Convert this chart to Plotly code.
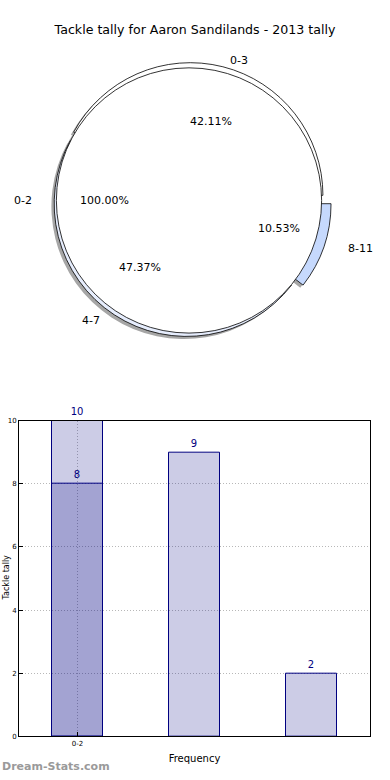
import math
import plotly.graph_objects as go

# ---------------- data ----------------
title_text = "Tackle tally for Aaron Sandilands - 2013 tally"
pie1_labels = ["0-2"]
pie1_values = [10]
pie2_labels = ["0-3", "4-7", "8-11"]
pie2_values = [8, 9, 2]
pie2_explode = [0.04, 0.03, 0.075]
pie1_colors = ["#ffffff"]
pie2_colors = ["#ffffff", "#e6edfd", "#c6d9fd"]
x_title = "Frequency"
y_title = "Tackle tally"
watermark = "Dream-Stats.com"

# ---------------- layout constants ----------------
W, H = 390, 780
CX, CY, R = 189.0, 198.5, 134.0   # pie centre / radius in px
TRX, TRY = 141.0, 128.0           # radii used for placing pie texts
FONT = "DejaVu Sans"
NAVY = "#000080"
BAR_FILL = "rgba(0,0,128,0.2)"
GRID = "#b8b8b8"


def pie_domain(cx, cy, r, maxpull=0.0):
    half = r * (1 + maxpull)
    return dict(x=[(cx - half) / W, (cx + half) / W],
                y=[1 - (cy + half) / H, 1 - (cy - half) / H])


def start_rotation(values):
    # plotly (counterclockwise) ends the first slice at `rotation`;
    # make the first slice start at 3 o'clock like matplotlib's startangle=0
    return 90.0 - 360.0 * values[0] / float(sum(values))


fig = go.Figure()
maxpull = max(pie2_explode)
SH_DX, SH_DY = -2.8, 2.6

common = dict(sort=False, direction="counterclockwise",
              textinfo="none", hoverinfo="skip", showlegend=False)
rot1 = start_rotation(pie1_values)
rot2 = start_rotation(pie2_values)

# shadows
fig.add_trace(go.Pie(labels=pie1_labels, values=pie1_values, rotation=rot1,
                     marker=dict(colors=["#a6a6a6"], line=dict(width=0)),
                     domain=pie_domain(CX + SH_DX, CY + SH_DY, R), **common))
fig.add_trace(go.Pie(labels=pie2_labels, values=pie2_values, pull=pie2_explode, rotation=rot2,
                     marker=dict(colors=["#a6a6a6"] * 3, line=dict(width=0)),
                     domain=pie_domain(CX + SH_DX, CY + SH_DY, R, maxpull), **common))
# exploded pie
fig.add_trace(go.Pie(labels=pie2_labels, values=pie2_values, pull=pie2_explode, rotation=rot2,
                     marker=dict(colors=pie2_colors, line=dict(color="black", width=0.8)),
                     domain=pie_domain(CX, CY, R, maxpull), **common))
# full pie on top
fig.add_trace(go.Pie(labels=pie1_labels, values=pie1_values, rotation=rot1,
                     marker=dict(colors=pie1_colors, line=dict(color="black", width=0.8)),
                     domain=pie_domain(CX, CY, R), **common))

# pie labels (matplotlib style: label at 1.1 r, pct at 0.6 r)
annotations = []


def add_pie_text(labels, values, explode):
    total = float(sum(values))
    theta1 = 0.0
    for lab, v, e in zip(labels, values, explode):
        frac = v / total
        theta2 = theta1 + 360.0 * frac
        mid = math.radians((theta1 + theta2) / 2)
        c, s = math.cos(mid), math.sin(mid)
        lx = CX + (1.1 + e) * TRX * c
        ly = CY - (1.1 + e) * TRY * s
        annotations.append(dict(x=lx / W, y=1 - ly / H, xref="paper", yref="paper",
                                text=lab, showarrow=False,
                                xanchor="left" if c > 1e-9 else "right", yanchor="middle",
                                font=dict(family=FONT, size=11, color="black")))
        px = CX + (e + 0.6) * TRX * c
        py = CY - (e + 0.6) * TRY * s
        annotations.append(dict(x=px / W, y=1 - py / H, xref="paper", yref="paper",
                                text=f"{100 * frac:.2f}%", showarrow=False,
                                xanchor="center", yanchor="middle",
                                font=dict(family=FONT, size=11, color="black")))
        theta1 = theta2


add_pie_text(pie2_labels, pie2_values, pie2_explode)
add_pie_text(pie1_labels, pie1_values, [0.0] * len(pie1_values))

# ---------------- bars ----------------
x1 = list(range(len(pie1_values)))
x2 = list(range(len(pie2_values)))
bar_common = dict(width=0.44, marker=dict(color=BAR_FILL, line=dict(color=NAVY, width=1)),
                  textposition="outside", cliponaxis=False,
                  textfont=dict(family=FONT, size=10, color=NAVY),
                  outsidetextfont=dict(family=FONT, size=10, color=NAVY),
                  hoverinfo="skip", showlegend=False, xaxis="x", yaxis="y")
fig.add_trace(go.Bar(x=x1, y=pie1_values, text=[str(v) for v in pie1_values], **bar_common))
fig.add_trace(go.Bar(x=x2, y=pie2_values, text=[str(v) for v in pie2_values], **bar_common))

annotations.append(dict(x=0, y=1 - 770 / H, xref="paper", yref="paper", text=f"<b>{watermark}</b>",
                        showarrow=False, xanchor="left", yanchor="middle",
                        font=dict(family=FONT, size=11, color="#9a9a9a")))
annotations.append(dict(x=0, y=1 - 580 / H, xref="paper", yref="paper", text=y_title,
                        showarrow=False, xanchor="left", yanchor="middle", textangle=-90,
                        font=dict(family=FONT, size=8, color="black")))

fig.update_layout(
    width=W, height=H, autosize=False,
    margin=dict(l=0, r=0, t=0, b=0),
    paper_bgcolor="white", plot_bgcolor="white",
    barmode="overlay", bargap=0,
    title=dict(text=title_text, x=0.5, xref="container", y=1 - 30 / H, yref="container",
               xanchor="center", yanchor="middle",
               font=dict(family=FONT, size=12.6, color="black")),
    xaxis=dict(domain=[19 / W, 370 / W], range=[-0.5, 2.5], tickvals=[0], ticktext=pie1_labels,
               showline=True, mirror=True, linecolor="black", linewidth=1,
               showgrid=True, gridcolor=GRID, griddash="1px,2px", gridwidth=1,
               ticks="inside", ticklen=4, tickcolor="black", zeroline=False,
               tickfont=dict(family=FONT, size=7, color="black"),
               title=dict(text=x_title, standoff=8, font=dict(family=FONT, size=10, color="black"))),
    yaxis=dict(domain=[1 - 740 / H, 1 - 421 / H], range=[0, 10], dtick=2,
               showline=True, mirror=True, linecolor="black", linewidth=1,
               showgrid=True, gridcolor=GRID, griddash="1px,2px", gridwidth=1,
               ticks="inside", ticklen=4, tickcolor="black", zeroline=False,
               tickfont=dict(family=FONT, size=7, color="black")),
    annotations=annotations,
    font=dict(family=FONT),
)

fig.write_html("out.html", config={"displayModeBar": False},
               post_script="document.body.style.margin='0';document.body.style.overflow='hidden';")
